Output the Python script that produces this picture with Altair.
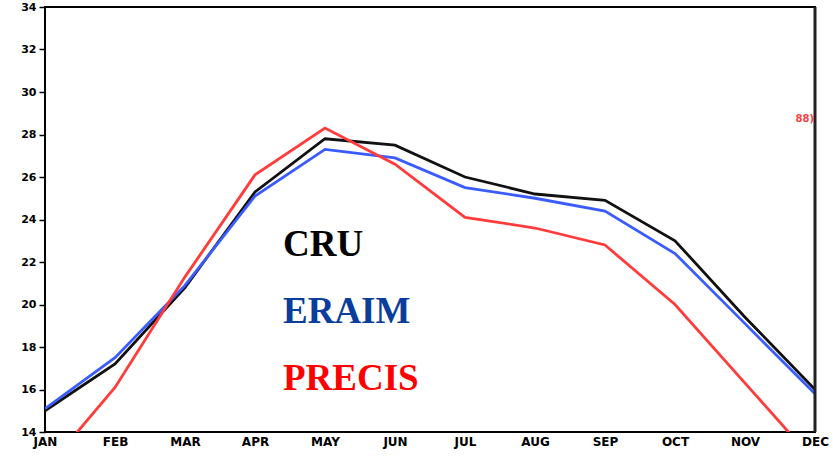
import altair as alt
import pandas as pd

# Monthly climatology (°C) for three datasets
months = ["JAN", "FEB", "MAR", "APR", "MAY", "JUN",
          "JUL", "AUG", "SEP", "OCT", "NOV", "DEC"]
cru = [15.0, 17.2, 20.8, 25.3, 27.8, 27.5, 26.0, 25.2, 24.9, 23.0, 19.4, 16.0]
eraim = [15.1, 17.5, 20.9, 25.1, 27.3, 26.9, 25.5, 25.0, 24.4, 22.4, 19.1, 15.8]
precis = [12.2, 16.1, 21.3, 26.1, 28.3, 26.6, 24.1, 23.6, 22.8, 20.0, 16.3, 12.6]
y_ticks = [14, 16, 18, 20, 22, 24, 26, 28, 30, 32, 34]

series_names = ["CRU", "ERAIM", "PRECIS"]
series_values = [cru, eraim, precis]
line_colors = ["#111111", "#3a5cff", "#ff3b3b"]
label_colors = ["#000000", "#0a3d9c", "#ff0000"]
label_baselines = [22.3, 19.15, 16.0]

rows = []
for name, vals in zip(series_names, series_values):
    for m, v in zip(months, vals):
        rows.append({"month": m, "temp": v, "series": name})
df = pd.DataFrame(rows)

x_scale = alt.Scale(type="point", padding=0, domain=months)
y_scale = alt.Scale(domain=[14, 34], nice=False, zero=False)

x_enc = alt.X("month:N", sort=months, scale=x_scale,
              axis=alt.Axis(title=None, labelAngle=0, ticks=False, domain=False,
                            labelFont="DejaVu Sans", labelFontWeight="bold",
                            labelFontSize=12, labelColor="black",
                            labelPadding=4))
y_enc = alt.Y("temp:Q", scale=y_scale,
              axis=alt.Axis(title=None, values=y_ticks, grid=False, domain=False,
                            tickSize=6, tickColor="black", tickWidth=1.5,
                            labelFont="DejaVu Sans", labelFontWeight="bold",
                            labelFontSize=11, labelColor="black",
                            labelPadding=3))

lines = alt.Chart(df).mark_line(clip=True, strokeWidth=2.8).encode(
    x=x_enc,
    y=y_enc,
    color=alt.Color("series:N",
                    scale=alt.Scale(domain=series_names, range=line_colors),
                    legend=None),
    detail="series:N",
)

# Dataset names written inside the plot
legend_df = pd.DataFrame({
    "label": series_names,
    "color": label_colors,
    "temp": label_baselines,
})
legend_text = alt.Chart(legend_df).mark_text(
    font="Liberation Serif", fontWeight="bold", fontSize=37,
    align="left", baseline="alphabetic"
).encode(
    x=alt.value(238),
    y=alt.Y("temp:Q", scale=y_scale),
    text="label:N",
    color=alt.Color("color:N", scale=None),
)

# Small red note near the right edge
note_df = pd.DataFrame({"month": ["DEC"], "temp": [28.75], "txt": ["88)"]})
note = alt.Chart(note_df).mark_text(
    font="DejaVu Sans", fontWeight="bold", fontSize=10,
    color="#ff4040", align="right", baseline="middle", dx=-1
).encode(
    x=alt.X("month:N", sort=months, scale=x_scale),
    y=alt.Y("temp:Q", scale=y_scale),
    text="txt:N",
)

# Heavier right border of the frame
right_edge = alt.Chart(pd.DataFrame({"month": ["DEC"]})).mark_rule(
    color="#222222", strokeWidth=3
).encode(
    x=alt.X("month:N", sort=months, scale=x_scale),
)

chart = alt.layer(lines, note, right_edge, legend_text).properties(
    width=770,
    height=425,
    padding={"left": 45, "top": 7, "right": 18, "bottom": 24},
    autosize=alt.AutoSizeParams(type="none"),
    background="white",
).configure_view(
    stroke="black",
    strokeWidth=2,
)

chart.save("out.html", embed_options={"renderer": "svg", "actions": False})
